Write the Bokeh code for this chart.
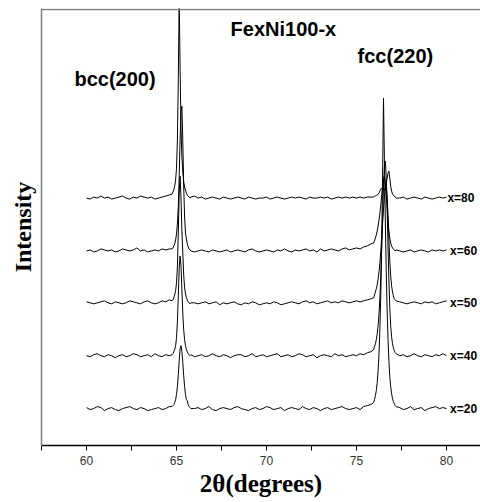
from bokeh.plotting import figure
from bokeh.models import Range1d, FixedTicker, Span, ColumnDataSource
from bokeh.core.properties import value
from bokeh.embed import file_html
from bokeh.resources import INLINE

# 2-theta sampling grid (degrees)
two_theta = ([round(60.0 + 0.2 * i, 2) for i in range(24)] +
             [round(64.75 + 0.05 * i, 2) for i in range(22)] +
             [round(66.0 + 0.2 * i, 2) for i in range(50)] +
             [round(75.95 + 0.05 * i, 2) for i in range(26)] +
             [round(77.4 + 0.2 * i, 2) for i in range(14)])

# intensities (arbitrary units, relative to each trace's baseline)
int_x20 = ([1,-1,0,2,1,-2,0,1,-1,-2, 0,1,2,0,-1,1,0,-2,-1,0, 1,-1,0,2] +
           [2,3,4,6,9,14,22,34,48,60, 63,57,46,33,22,14,9,8,4,2, 1,0] +
           [0,1,-1,0,2,-1,-2,0,1,0, -1,1,2,0,-1,-2,0,1,-1,0, 2,1,-1,0,1,-2,0,1,0,-1,
            2,0,-1,1,0,-2,0,1,-1,0, 1,2,0,-1,0,1,-1,2,3,4] +
           [6,9,13,18,26,38,55,80,115,165, 235,311,250,190,140,100,70,48,32,22, 15,10,7,5,3,2] +
           [1,-1,0,2,-1,0,1,-2,0,1, 2,0,1,0])
int_x40 = ([0,-1,1,2,0,-1,1,0,-2,0, 1,-1,0,2,1,-1,0,1,-1,2, 0,-1,1,0] +
           [1,2,4,6,10,18,34,60,88,100, 90,66,42,26,16,10,6,4,2,1, 0,1] +
           [-1,0,1,-1,0,2,0,-1,1,0, -2,0,1,1,-1,0,2,-1,0,1, -1,0,1,2,-1,0,1,-1,0,2,
            1,-1,0,1,-2,0,1,0,-1,2, 0,1,-1,0,1,0,2,1,3,4] +
           [6,9,12,16,22,30,42,58,80,108, 140,170,190,195,180,150,110,75,48,30, 19,12,8,5,3,2] +
           [0,1,-1,0,2,0,-1,1,0,-1, 1,0,2,0])
int_x50 = ([1,0,-1,0,1,2,0,-1,1,0, -1,0,2,1,0,-1,1,2,0,-1, 0,2,1,3] +
           [2,3,5,8,12,20,36,70,110,127, 105,72,50,28,15,9,5,3,1,0, -1,0] +
           [0,-1,0,1,-1,0,1,-2,0,-1, 0,1,-1,-2,0,-1,1,0,-2,-1, 0,-1,1,0,-2,-1,0,1,0,-1,
            1,2,0,1,-1,0,1,2,0,1, 0,2,1,0,1,2,1,2,3,4] +
           [5,8,11,14,18,24,31,40,52,66, 80,94,106,114,117,108,88,64,42,27, 17,11,7,4,3,2] +
           [1,0,-1,0,1,0,-1,1,0,1, -1,0,1,2])
int_x60 = ([0,1,-1,0,2,1,0,1,-1,0, 2,1,0,1,3,0,1,-1,0,1, 0,2,1,2] +
           [2,3,5,7,11,17,27,45,75,112, 140,145,110,65,34,18,12,7,4,2, 1,0] +
           [-1,0,1,0,-1,1,0,-1,0,1, -1,0,1,0,-1,1,2,0,-1,0, 1,0,-1,1,0,2,0,-1,1,0,
            1,2,0,1,-1,2,0,1,2,1, 0,2,3,1,2,3,2,4,5,7] +
           [8,10,13,16,20,25,31,38,46,55, 64,71,75,70,58,44,30,20,13,8, 5,3,2,1,0,1] +
           [0,-1,0,1,-1,0,1,0,-1,1, 0,1,0,1])
int_x80 = ([0,-1,1,0,2,0,1,-1,0,1, 2,0,-1,1,0,2,1,0,1,-1, 0,1,2,3] +
           [4,6,8,12,18,30,58,120,200,130, 70,42,26,16,11,8,5,3,2,1, 0,1] +
           [2,0,1,-1,0,1,0,-1,1,0, -1,0,1,0,-1,1,0,-1,0,0, 1,-1,0,1,0,-1,0,1,0,1,
            0,-1,1,0,0,1,0,1,-1,0, 1,0,1,0,1,0,1,0,1,1] +
           [1,2,2,3,3,4,5,7,9,10, 9,8,8,10,14,20,25,27,20,12, 7,4,3,2,1,0] +
           [0,1,-1,0,1,0,-1,1,0,-1, 0,1,0,1])

series_labels = ["x=20", "x=40", "x=50", "x=60", "x=80"]
series_values = [int_x20, int_x40, int_x50, int_x60, int_x80]
stack_offsets = [37, 90, 143, 195, 248]
x_ticks = [60, 65, 70, 75, 80]
x_minor_ticks = [57.5, 62.5, 67.5, 72.5, 77.5, 82.5]

for s in series_values:
    if len(s) != len(two_theta):
        raise ValueError("length mismatch %d vs %d" % (len(s), len(two_theta)))

p = figure(width=480, height=502, output_backend="svg", toolbar_location=None,
           x_range=Range1d(57.5, 57.5 + 439 / 18), y_range=Range1d(0, 438),
           min_border_left=41, min_border_right=0, min_border_top=8, min_border_bottom=57)
p.outline_line_color = None
p.xgrid.visible = False
p.ygrid.visible = False
p.background_fill_color = "white"
p.border_fill_color = "white"

for vals, off in zip(series_values, stack_offsets):
    src = ColumnDataSource(dict(x=two_theta, y=[v + off for v in vals]))
    p.line("x", "y", source=src, line_color="black", line_width=1)

lab_x = [80.2, 80.2, 80.2, 80.2, 80.05]
p.text(x=lab_x, y=stack_offsets, text=series_labels, text_font=value("Liberation Sans"),
       text_font_style="bold", text_font_size="12px", text_baseline="middle",
       text_align="left", text_color="black")

p.text(x=[70.94], y=[417], text=["FexNi100-x"], text_font=value("Liberation Sans"),
       text_font_style="bold", text_font_size="20px", text_baseline="middle",
       text_align="center", text_color="black")
p.text(x=[75.06], y=[390], text=["fcc(220)"], text_font=value("Liberation Sans"),
       text_font_style="bold", text_font_size="20px", text_baseline="middle",
       text_align="left", text_color="black")
p.text(x=[59.33], y=[367], text=["bcc(200)"], text_font=value("Liberation Sans"),
       text_font_style="bold", text_font_size="20px", text_baseline="middle",
       text_align="left", text_color="black")

p.add_layout(Span(location=437, dimension="width", line_color="#7f7f7f", line_width=1.5))

xa = p.xaxis[0]
xa.ticker = FixedTicker(ticks=x_ticks, minor_ticks=x_minor_ticks)
xa.axis_line_color = "black"
xa.axis_line_width = 1.5
xa.major_tick_line_color = "black"
xa.minor_tick_line_color = "black"
xa.major_tick_out = 5
xa.major_tick_in = 0
xa.minor_tick_out = 5
xa.minor_tick_in = 0
xa.major_label_text_font = "Liberation Sans"
xa.major_label_text_font_size = "12px"
xa.major_label_text_color = "#333333"
xa.major_label_standoff = 5
xa.axis_label = "2θ(degrees)"
xa.axis_label_text_font = "Liberation Serif"
xa.axis_label_text_font_style = "bold"
xa.axis_label_text_font_size = "25px"
xa.axis_label_text_color = "black"
xa.axis_label_standoff = 2

ya = p.yaxis[0]
ya.ticker = FixedTicker(ticks=[])
ya.major_tick_out = 0
ya.major_tick_in = 0
ya.minor_tick_out = 0
ya.minor_tick_in = 0
ya.major_label_text_font_size = "0px"
ya.axis_line_color = "#7f7f7f"
ya.axis_line_width = 1.5
ya.axis_label = "Intensity"
ya.axis_label_text_font = "Liberation Serif"
ya.axis_label_text_font_style = "bold"
ya.axis_label_text_font_size = "24px"
ya.axis_label_text_color = "black"
ya.axis_label_standoff = 6

open("out.html", "w").write(file_html(p, INLINE))
